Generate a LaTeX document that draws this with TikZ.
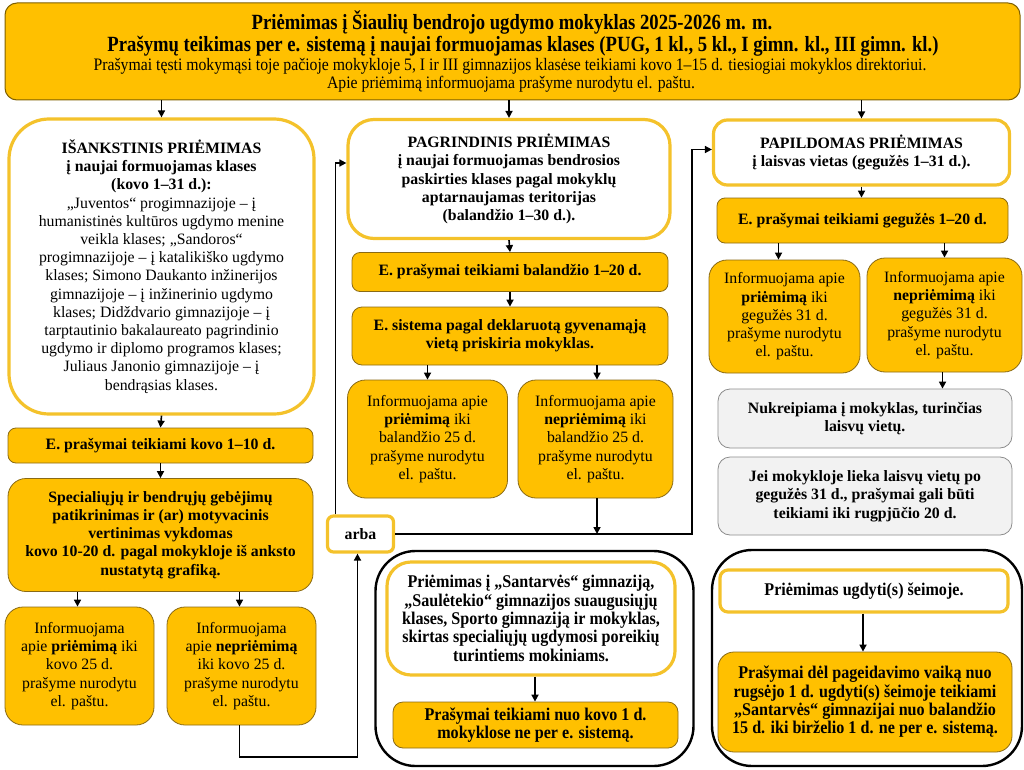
\documentclass[tikz,border=0pt]{standalone}
\usepackage{fontspec}
\setmainfont{Liberation Serif}
\newfontfamily\cond[FakeStretch=0.86]{Liberation Serif}
\newfontfamily\condb[FakeStretch=0.9]{Liberation Serif}
\usetikzlibrary{arrows.meta,calc}
\definecolor{gold}{HTML}{FFC000}
\definecolor{goldline}{HTML}{8A6A14}
\definecolor{ring}{HTML}{F4C22B}
\definecolor{grayfill}{HTML}{F2F2F2}
\definecolor{grayline}{HTML}{8C8C8C}
\definecolor{headline}{HTML}{7F6000}
\newcommand\bodyfont{\fontsize{15.8}{18.2}\selectfont}
\newcommand\grayfont{\fontsize{15.8}{18.4}\selectfont\bfseries}
\newcommand\condfont{\condb\fontsize{17.9}{18.3}\selectfont\bfseries}
\begin{document}
\begin{tikzpicture}[x=1pt,y=-1pt,
 gbox/.style={draw=goldline, fill=gold, line width=0.8pt, align=center, inner sep=0pt, font=\bodyfont},
 wbox/.style={draw=ring, fill=white, line width=3.2pt, align=center, inner sep=0pt, font=\bodyfont},
 grbox/.style={draw=grayline, fill=grayfill, line width=0.8pt, align=center, inner sep=0pt, font=\grayfont},
 obox/.style={draw=black, line width=2.4pt, inner sep=0pt},
 arr/.style={draw=black, line width=1.6pt, -{Triangle[length=7pt,width=7pt]}},
 txt/.style={inner sep=0pt, align=center},
]
\useasboundingbox (0,0) rectangle (1024,770);

% header
\node[draw=headline, fill=gold, line width=1pt, rounded corners=12pt, minimum width=1015pt, minimum height=97pt] (header) at (512.5,51.5) {};
\node[txt, font=\cond\fontsize{21.7}{24}\selectfont\bfseries] (h1) at (512,22) {Priėmimas į Šiaulių bendrojo ugdymo mokyklas 2025-2026 m. m.};
\node[txt, font=\cond\fontsize{21.7}{24}\selectfont\bfseries] (h2) at (523,46) {Prašymų teikimas per e. sistemą į naujai formuojamas klases (PUG, 1 kl., 5 kl., I gimn. kl., III gimn. kl.)};
\node[txt, font=\condb\fontsize{17.5}{18}\selectfont] (h3) at (510,66) {Prašymai tęsti mokymąsi toje pačioje mokykloje 5, I ir III gimnazijos klasėse teikiami kovo 1–15 d. tiesiogiai mokyklos direktoriui.};
\node[txt, font=\condb\fontsize{17.5}{18}\selectfont] (h4) at (511,84) {Apie priėmimą informuojama prašyme nurodytu el. paštu.};

% left column
\node[wbox, rounded corners=40pt, minimum width=305pt, minimum height=295pt] (L1) at (161.5,266.5) {\textbf{IŠANKSTINIS PRIĖMIMAS}\\\textbf{į naujai formuojamas klases}\\\textbf{(kovo 1–31 d.):}\\„Juventos“ progimnazijoje – į\\humanistinės kultūros ugdymo menine\\veikla klases; „Sandoros“\\progimnazijoje – į katalikiško ugdymo\\klases; Simono Daukanto inžinerijos\\gimnazijoje – į inžinerinio ugdymo\\klases; Didždvario gimnazijoje – į\\tarptautinio bakalaureato pagrindinio\\ugdymo ir diplomo programos klases;\\Juliaus Janonio gimnazijoje – į\\bendrąsias klases.};
\node[gbox, rounded corners=8pt, minimum width=305pt, minimum height=35pt] (L2) at (160.5,445.5) {\textbf{E. prašymai teikiami kovo 1–10 d.}};
\node[gbox, rounded corners=18pt, minimum width=305pt, minimum height=113pt] (L3) at (160.5,535) {\textbf{Specialiųjų ir bendrųjų gebėjimų}\\\textbf{patikrinimas ir (ar) motyvacinis}\\\textbf{vertinimas vykdomas}\\\textbf{kovo 10-20 d. pagal mokykloje iš anksto}\\\textbf{nustatytą grafiką.}};
\node[gbox, rounded corners=18pt, minimum width=149pt, minimum height=118pt] (L4) at (79.5,666) {Informuojama\\apie \textbf{priėmimą} iki\\kovo 25 d.\\prašyme nurodytu\\el. paštu.};
\node[gbox, rounded corners=18pt, minimum width=149pt, minimum height=118pt] (L5) at (241.5,666) {Informuojama\\apie \textbf{nepriėmimą}\\iki kovo 25 d.\\prašyme nurodytu\\el. paštu.};

% arba
\node[wbox, rounded corners=6pt, minimum width=66pt, minimum height=36pt, font=\fontsize{15.8}{18}\selectfont\bfseries] (arba) at (360.5,534) {arba};

% middle column
\node[wbox, rounded corners=26pt, minimum width=322pt, minimum height=119pt] (M1) at (509,179) {\textbf{PAGRINDINIS PRIĖMIMAS}\\\textbf{į naujai formuojamas bendrosios}\\\textbf{paskirties klases pagal mokyklų}\\\textbf{aptarnaujamas teritorijas}\\\textbf{(balandžio 1–30 d.).}};
\node[gbox, rounded corners=8pt, minimum width=316pt, minimum height=39pt] (M2) at (510,272) {\textbf{E. prašymai teikiami balandžio 1–20 d.}};
\node[gbox, rounded corners=10pt, minimum width=316pt, minimum height=58pt] (M3) at (510,336) {\textbf{E. sistema pagal deklaruotą gyvenamąją}\\\textbf{vietą priskiria mokyklas.}};
\node[gbox, rounded corners=18pt, minimum width=160pt, minimum height=118pt] (M4) at (427.5,439) {Informuojama apie\\\textbf{priėmimą} iki\\balandžio 25 d.\\prašyme nurodytu\\el. paštu.};
\node[gbox, rounded corners=18pt, minimum width=155pt, minimum height=118pt] (M5) at (595.5,439) {Informuojama apie\\\textbf{nepriėmimą} iki\\balandžio 25 d.\\prašyme nurodytu\\el. paštu.};

% right column
\node[wbox, rounded corners=14pt, minimum width=296pt, minimum height=65pt] (R1) at (861.5,152.5) {\textbf{PAPILDOMAS PRIĖMIMAS}\\\textbf{į laisvas vietas (gegužės 1–31 d.).}};
\node[gbox, rounded corners=8pt, minimum width=291pt, minimum height=45pt] (R2) at (862.5,220.5) {\textbf{E. prašymai teikiami gegužės 1–20 d.}};
\node[gbox, rounded corners=18pt, minimum width=151pt, minimum height=113pt] (R3) at (784.5,316.5) {Informuojama apie\\\textbf{priėmimą} iki\\gegužės 31 d.\\prašyme nurodytu\\el. paštu.};
\node[gbox, rounded corners=18pt, minimum width=155pt, minimum height=114pt] (R4) at (944.5,315) {Informuojama apie\\\textbf{nepriėmimą} iki\\gegužės 31 d.\\prašyme nurodytu\\el. paštu.};
\node[grbox, rounded corners=12pt, minimum width=294pt, minimum height=59pt] (R5) at (865,418.5) {Nukreipiama į mokyklas, turinčias\\laisvų vietų.};
\node[grbox, rounded corners=12pt, minimum width=294pt, minimum height=78pt] (R6) at (865,496) {Jei mokykloje lieka laisvų vietų po\\gegužės 31 d., prašymai gali būti\\teikiami iki rugpjūčio 20 d.};

% bottom middle
\node[obox, rounded corners=40pt, minimum width=318pt, minimum height=215pt] (BM) at (534.5,658.5) {};
\node[wbox, rounded corners=24pt, minimum width=288pt, minimum height=113pt, font=\condfont] (B1) at (531,618.5) {Priėmimas į „Santarvės“ gimnaziją,\\„Saulėtekio“ gimnazijos suaugusiųjų\\klases, Sporto gimnaziją ir mokyklas,\\skirtas specialiųjų ugdymosi poreikių\\turintiems mokiniams.};
\node[gbox, rounded corners=10pt, minimum width=285pt, minimum height=46pt, font=\condfont] (B2) at (535.5,725) {Prašymai teikiami nuo kovo 1 d.\\mokyklose ne per e. sistemą.};

% bottom right
\node[obox, rounded corners=40pt, minimum width=310pt, minimum height=216pt] (BR) at (867,658) {};
\node[wbox, rounded corners=8pt, minimum width=288pt, minimum height=42pt, font=\condfont] (B3) at (864,591) {Priėmimas ugdyti(s) šeimoje.};
\node[gbox, rounded corners=16pt, minimum width=294pt, minimum height=100pt, font=\condfont] (B4) at (865,702) {Prašymai dėl pageidavimo vaiką nuo\\rugsėjo 1 d. ugdyti(s) šeimoje teikiami\\„Santarvės“ gimnazijai nuo balandžio\\15 d. iki birželio 1 d. ne per e. sistemą.};

% connectors
\draw[arr] (header.south -| L1.north) -- (L1.north);
\draw[arr] (header.south -| M1.north) -- (M1.north);
\draw[arr] (header.south -| R1.north) -- (R1.north);
\draw[arr] (L1.south) -- (L2.north);
\draw[arr] (L2.south) -- (L3.north);
\draw[arr] ([xshift=-2pt]L3.south -| L4.north) -- ([xshift=-2pt]L4.north);
\draw[arr] ([xshift=-2pt]L3.south -| L5.north) -- ([xshift=-2pt]L5.north);
\coordinate (lowrun) at (300,757);
\draw[arr] ([xshift=-2pt]L5.south) |- (lowrun) -| ([xshift=-3pt]arba.south);
\draw[arr] ([xshift=-25pt]arba.north) |- ([yshift=16pt]M1.west);
\coordinate (rise) at (692,534);
\draw[arr] (arba.east) -- (rise) |- ([yshift=3pt]R1.west);
\draw[arr] ([xshift=1.5pt]M5.south) -- ([xshift=1.5pt]M5.south |- rise);
\draw[arr] (M1.south) -- (M2.north);
\draw[arr] (M2.south) -- (M3.north);
\draw[arr] (M3.south -| M4.north) -- (M4.north);
\draw[arr] ([xshift=1.5pt]M3.south -| M5.north) -- ([xshift=1.5pt]M5.north);
\draw[arr] (R1.south) -- (R2.north -| R1.south);
\draw[arr] ([xshift=-6pt]R2.south -| R3.north) -- ([xshift=-6pt]R3.north);
\draw[arr] (R2.south -| R4.north) -- (R4.north);
\draw[arr] ([xshift=-2pt]R4.south) -- ([xshift=-2pt]R4.south |- R5.north);
\draw[arr] ([xshift=4pt]B1.south) -- ([xshift=4pt]B1.south |- B2.north);
\draw[arr] ([xshift=-1pt]B3.south) -- ([xshift=-1pt]B3.south |- B4.north);
\end{tikzpicture}
\end{document}
